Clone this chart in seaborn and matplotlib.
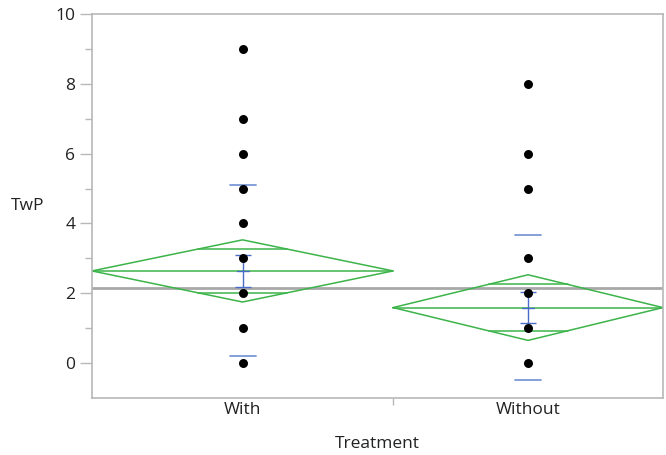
import numpy as np
import pandas as pd
import matplotlib
matplotlib.use("Agg")
import matplotlib.pyplot as plt
import seaborn as sns
from matplotlib.ticker import FixedLocator

# ---- data ----
categories = ["With", "Without"]
group_n = [29, 26]
with_values = [9, 7, 6, 5, 4, 3, 2, 1, 0]
without_values = [8, 6, 5, 3, 2, 1, 0]
means = [2.64, 1.59]
std_devs = [2.45, 2.08]
std_errs = [0.46, 0.45]
ci_half = [0.89, 0.94]
grand_mean = 2.14
y_ticks = [0, 2, 4, 6, 8, 10]

sns.set_theme(style="white")
plt.rcParams["font.family"] = ["Open Sans", "DejaVu Sans"]

fig = plt.figure(figsize=(6.66, 4.55), dpi=100)
ax = fig.add_axes([92 / 666, 1 - 398 / 455, (663 - 92) / 666, (398 - 14) / 455])

# group boundaries proportional to group sizes
edges = np.concatenate([[0], np.cumsum(group_n)])
centers = (edges[:-1] + edges[1:]) / 2

green = "#3cb44a"
sd_blue = "#7b98d6"
se_blue = "#4a6cc8"
fs = 12.5

# grand mean line
ax.axhline(grand_mean, color="#a8a8a8", lw=2.0, zorder=1)

for i, cat in enumerate(categories):
    x0, x1, xc = edges[i], edges[i + 1], centers[i]
    m, c = means[i], ci_half[i]
    # diamond
    ax.plot([x0, xc, x1, xc, x0], [m, m + c, m, m - c, m], color=green, lw=1.1, zorder=2)
    ax.plot([x0, x1], [m, m], color=green, lw=1.1, zorder=2)
    # overlap marks
    half_w = (x1 - x0) / 2 * (1 - 1 / np.sqrt(2))
    for s in (1, -1):
        ax.plot([xc - half_w, xc + half_w], [m + s * c / np.sqrt(2)] * 2, color=green, lw=1.1, zorder=2)
    # std dev lines
    sd_w = 13 / 571 * edges[-1]
    for s in (1, -1):
        ax.plot([xc - sd_w, xc + sd_w], [m + s * std_devs[i]] * 2, color=sd_blue, lw=1.3, zorder=3)
    # std error bars
    ax.errorbar([xc], [m], yerr=[std_errs[i]], color=se_blue, lw=1.0, capsize=6, capthick=1.0, zorder=3)
    ax.plot([xc - 6 / 571 * edges[-1], xc + 6 / 571 * edges[-1]], [m, m], color=se_blue, lw=1.0, zorder=3)

# points
df = pd.DataFrame({
    "Treatment": ["With"] * len(with_values) + ["Without"] * len(without_values),
    "TwP": with_values + without_values,
})
df["x"] = df["Treatment"].map(dict(zip(categories, centers)))
sns.scatterplot(data=df, x="x", y="TwP", color="black", s=42, edgecolor="black", linewidth=0, ax=ax, zorder=4)

# axes styling
ax.set_xlim(edges[0], edges[-1])
ax.set_ylim(-1, 10)
for side in ["left", "right", "top", "bottom"]:
    ax.spines[side].set_color("#b8b8b8")
    ax.spines[side].set_linewidth(1.2)

ax.yaxis.set_major_locator(FixedLocator(y_ticks))
ax.yaxis.set_minor_locator(FixedLocator([1, 3, 5, 7, 9]))
ax.tick_params(axis="y", which="major", length=9, width=1, color="#b8b8b8", labelsize=fs, labelcolor="#222222", pad=3, left=True)
ax.tick_params(axis="y", which="minor", length=5, width=1, color="#b8b8b8", left=True)

ax.set_xticks(centers)
ax.set_xticklabels(categories)
ax.xaxis.set_minor_locator(FixedLocator(edges[1:-1]))
ax.tick_params(axis="x", which="major", length=0, labelsize=fs, labelcolor="#222222", pad=3, bottom=True)
ax.tick_params(axis="x", which="minor", length=5, width=1, color="#b8b8b8", bottom=True)

ax.set_xlabel("Treatment", fontsize=fs, color="#222222", labelpad=13)
ax.set_ylabel("TwP", fontsize=fs, color="#222222", rotation=0, ha="center", va="center")
ax.yaxis.set_label_coords(-0.112, 0.5)

fig.savefig("out.png", dpi=100)
